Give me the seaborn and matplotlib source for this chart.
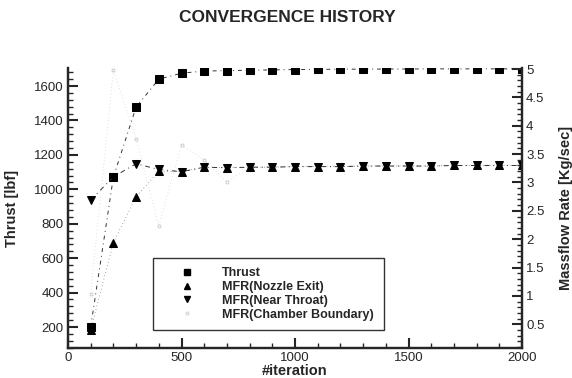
import numpy as np
import pandas as pd
import matplotlib
matplotlib.use("Agg")
import matplotlib.pyplot as plt
from matplotlib.lines import Line2D
from matplotlib.ticker import MultipleLocator, FormatStrFormatter
import seaborn as sns

iterations = [100, 200, 300, 400, 500, 600, 700, 800, 900, 1000,
              1100, 1200, 1300, 1400, 1500, 1600, 1700, 1800, 1900, 2000]
thrust = [200, 1072, 1478, 1640, 1675, 1687, 1690, 1692, 1694, 1696,
          1697, 1698, 1698, 1699, 1699, 1700, 1700, 1700, 1700, 1700]
mfr_nozzle_exit = [0.40, 1.94, 2.75, 3.20, 3.19, 3.27, 3.26, 3.27, 3.27, 3.28,
                   3.28, 3.28, 3.29, 3.29, 3.29, 3.29, 3.30, 3.30, 3.30, 3.30]
mfr_near_throat = [2.69, 3.10, 3.33, 3.23, 3.19, 3.27, 3.26, 3.27, 3.27, 3.28,
                   3.28, 3.28, 3.29, 3.29, 3.29, 3.29, 3.30, 3.30, 3.30, 3.30]
mfr_chamber = [1.04, 4.98, 3.77, 2.24, 3.66, 3.40, 3.01, 3.27, 3.28, 3.28,
               3.29, 3.29, 3.30, 3.30, 3.30, 3.30, 3.31, 3.31, 3.31, 3.31]

labels = ["Thrust", "MFR(Nozzle Exit)", "MFR(Near Throat)", "MFR(Chamber Boundary)"]

sns.set_style("ticks")
plt.rcParams["font.family"] = ["Liberation Sans", "DejaVu Sans"]
plt.rcParams["xtick.direction"] = "in"
plt.rcParams["ytick.direction"] = "in"

fig = plt.figure(figsize=(5.72, 3.78), dpi=100)
ax = fig.add_axes([68/572, 1 - 348/378, 454/572, 280/378])
ax2 = ax.twinx()

df = pd.DataFrame({"it": iterations, "thrust": thrust, "noz": mfr_nozzle_exit,
                   "thr": mfr_near_throat, "ch": mfr_chamber})

sns.lineplot(data=df, x="it", y="ch", ax=ax2, color="#d4d4d4", lw=0.6,
             linestyle=(0, (1, 3)), marker="o", markersize=2.2,
             markeredgecolor="#c4c4c4", markerfacecolor="none", markeredgewidth=0.6)
sns.lineplot(data=df, x="it", y="noz", ax=ax2, color="#555555", lw=0.5,
             linestyle=(0, (1, 4)), marker="^", markersize=5.5,
             markeredgecolor="black", markerfacecolor="black")
sns.lineplot(data=df, x="it", y="thr", ax=ax2, color="#333333", lw=0.7,
             linestyle=(0, (5, 4, 1, 4)), marker="v", markersize=5.5,
             markeredgecolor="black", markerfacecolor="black")
sns.lineplot(data=df, x="it", y="thrust", ax=ax, color="#333333", lw=0.7,
             linestyle=(0, (4, 4, 1, 4)), marker="s", markersize=5.5,
             markeredgecolor="black", markerfacecolor="black")

ax.set_xlim(0, 2000)
ax.set_ylim(78, 1705)
ax2.set_ylim(0.08, 5.02)

ax.xaxis.set_major_locator(MultipleLocator(500))
ax.xaxis.set_minor_locator(MultipleLocator(100))
ax.yaxis.set_major_locator(MultipleLocator(200))
ax.yaxis.set_minor_locator(MultipleLocator(40))
ax2.yaxis.set_major_locator(MultipleLocator(0.5))
ax2.yaxis.set_minor_locator(MultipleLocator(0.1))
ax2.yaxis.set_major_formatter(FormatStrFormatter("%g"))

for a in (ax, ax2):
    a.spines["top"].set_visible(False)
    for s in a.spines.values():
        s.set_linewidth(1.6)
ax.tick_params(axis="both", which="major", direction="in", length=7, width=1.5,
               labelsize=9.5, pad=3)
ax.tick_params(axis="both", which="minor", direction="in", length=3.5, width=1.0)
ax2.tick_params(axis="y", which="major", direction="in", length=7, width=1.5,
                labelsize=9.5, pad=3)
ax2.tick_params(axis="y", which="minor", direction="in", length=3.5, width=1.0)

ax.set_xlabel("#iteration", fontsize=10.5, fontweight="bold", labelpad=0)
ax.set_ylabel("Thrust [lbf]", fontsize=10.5, fontweight="bold", labelpad=11)
ax2.set_ylabel("Massflow Rate [Kg/sec]", fontsize=10.5, fontweight="bold", labelpad=10)

fig.suptitle("CONVERGENCE HISTORY", x=287/572, y=1 - 10/378, va="top",
             fontsize=12.5, fontweight="bold")

handles = [
    Line2D([], [], linestyle="none", marker="s", color="black", markersize=5),
    Line2D([], [], linestyle="none", marker="^", color="black", markersize=5),
    Line2D([], [], linestyle="none", marker="v", color="black", markersize=5),
    Line2D([], [], linestyle="none", marker="o", color="#d8d8d8",
           markerfacecolor="none", markersize=2),
]
leg = ax2.legend(handles, labels, loc="lower left",
                 bbox_to_anchor=((153 - 68) / 454, (348 - 330) / 280),
                 frameon=True, fancybox=False, edgecolor="black",
                 prop={"weight": "bold", "size": 9},
                 handlelength=4.0, handletextpad=0.8, borderpad=0.75,
                 labelspacing=0.15, borderaxespad=0)
leg.get_frame().set_linewidth(1.0)
if ax.get_legend() is not None:
    ax.get_legend().remove()

fig.savefig("out.png", dpi=100)
